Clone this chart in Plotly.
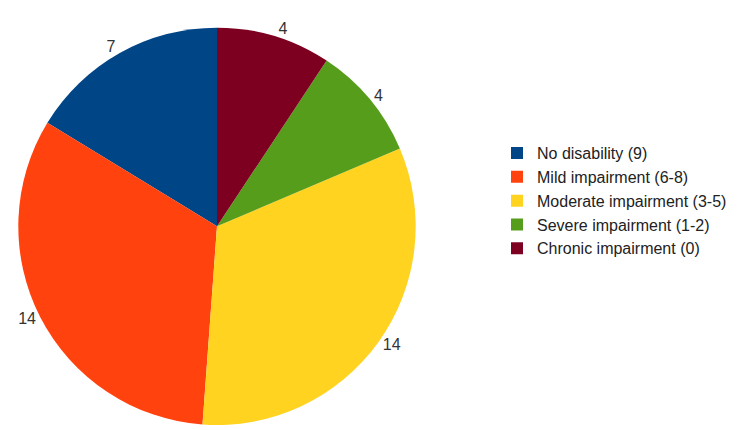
import plotly.graph_objects as go

# Disability categories and patient counts
categories = [
    "No disability (9)",
    "Mild impairment (6-8)",
    "Moderate impairment (3-5)",
    "Severe impairment (1-2)",
    "Chronic impairment (0)",
]
counts = [7, 14, 14, 4, 4]
colors = ["#004586", "#ff420e", "#ffd320", "#579d1c", "#7e0021"]

W, H = 746, 430

# first slice begins at 12 o'clock and the rest follow counter-clockwise
start_rot = -360.0 * counts[0] / sum(counts)

fig = go.Figure(
    go.Pie(
        labels=categories,
        values=counts,
        sort=False,
        direction="counterclockwise",
        rotation=start_rot,
        marker=dict(colors=colors, line=dict(width=0)),
        texttemplate="%{value}",
        textposition="outside",
        textfont=dict(family="Liberation Sans, Arial, sans-serif", size=16, color="#333333"),
        domain=dict(x=[13 / W, 421 / W], y=[0.0, 0.935]),
        hoverinfo="label+value",
    )
)

fig.update_layout(
    width=W,
    height=H,
    margin=dict(l=0, r=0, t=0, b=0),
    paper_bgcolor="white",
    showlegend=True,
    legend=dict(
        x=497 / W,
        xanchor="left",
        y=1 - 203 / H,
        yanchor="middle",
        font=dict(family="Liberation Sans, Arial, sans-serif", size=16, color="#222222"),
        bgcolor="rgba(0,0,0,0)",
    ),
)

fig.write_html("out.html")
